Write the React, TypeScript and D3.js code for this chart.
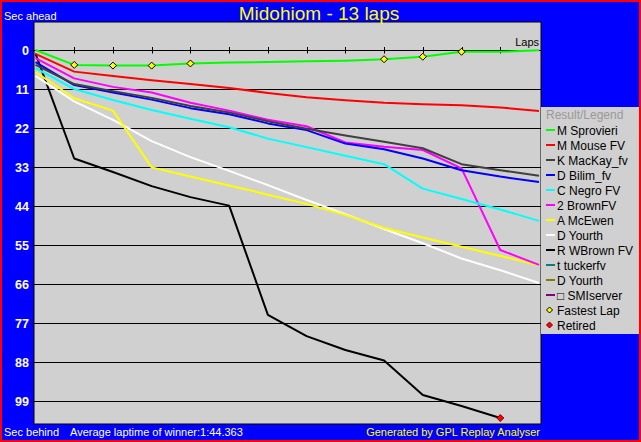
import React from 'react';
import * as d3 from 'd3';

const W = 641;
const H = 442;

const lapNumbers = d3.range(0, 14);
const yTickValues = [0, 11, 22, 33, 44, 55, 66, 77, 88, 99];
const lapTickValues = d3.range(1, 13);

// gap to reference (seconds behind), per lap 0..13
const sprovieri = [0, 4.2, 4.4, 4.4, 3.8, 3.5, 3.4, 3.2, 3.0, 2.6, 1.9, 0.5, 0.5, 0.1];
const mouse = [1.1, 6.1, 7.3, 8.5, 9.6, 10.7, 12.1, 13.3, 14.2, 14.9, 15.3, 15.6, 16.2, 17.2];
const mackay = [4.2, 9.6, 11.6, 13.5, 15.8, 17.6, 20.1, 22.2, 24.1, 25.9, 27.7, 32.2, 33.9, 35.5];
const bilim = [3.4, 9.9, 12.0, 14.0, 16.4, 18.1, 20.7, 22.6, 26.4, 28.0, 30.6, 33.9, 35.7, 37.2];
const negro = [5.1, 11.0, 14.1, 16.9, 19.4, 21.8, 25.0, 27.4, 29.8, 32.2, 39.1, 42.0, 45.0, 48.2];
const brown2 = [2.3, 8.0, 10.4, 12.0, 14.9, 17.1, 19.7, 21.5, 26.1, 27.3, 28.2, 33.4, 56.4, 60.6];
const mcewen = [6.2, 13.6, 17.1, 33.1, 35.7, 38.2, 40.8, 43.4, 46.5, 50.2, 52.9, 55.5, 58.1, 60.7];
const yourth = [7.3, 14.5, 19.7, 25.7, 30.2, 34.1, 38.1, 42.3, 46.3, 50.5, 54.5, 58.8, 62.1, 65.7];
const wbrown = [1.0, 30.6, 34.4, 38.4, 41.5, 43.9, 74.7, 80.7, 84.6, 87.6, 97.3, 100.4, 103.8];

const driverNames = [
  'M Sprovieri', 'M Mouse FV', 'K MacKay_fv', 'D Bilim_fv', 'C Negro FV', '2 BrownFV',
  'A McEwen', 'D Yourth', 'R WBrown FV', 't tuckerfv', 'D Yourth', '\u25A1 SMIserver',
];
const driverColors = [
  '#00ff00', '#ff0000', '#404040', '#0000ff', '#00ffff', '#ff00ff',
  '#ffff00', '#ffffff', '#000000', '#008080', '#808000', '#800080',
];
const driverSeries: (number[] | null)[] = [
  sprovieri, mouse, mackay, bilim, negro, brown2, mcewen, yourth, wbrown, null, null, null,
];

const fastestLaps = [1, 2, 3, 4, 9, 10, 11];
const retiredDriver = 8;

const FONT = '"Liberation Sans", Arial, sans-serif';

const diamond = (cx: number, cy: number, r: number) =>
  `${cx},${cy - r} ${cx + r},${cy} ${cx},${cy + r} ${cx - r},${cy}`;

export default function App() {
  const plot = { x0: 34, y0: 22, x1: 541, y1: 424 };
  const x = d3.scaleLinear().domain([0, 13]).range([35.5, 539]);
  const y = d3.scaleLinear().domain([0, 99]).range([50, 401]);
  const line = d3
    .line<number>()
    .x((_, i) => x(lapNumbers[i]))
    .y((d) => y(d));

  const drawOrder = d3.range(driverSeries.length).reverse();
  const leader = driverSeries[0] as number[];
  const retired = driverSeries[retiredDriver] as number[];
  const retiredLap = retired.length - 1;

  const legendItems = [
    ...driverNames.map((n, i) => ({ name: n, color: driverColors[i], kind: 'line' })),
    { name: 'Fastest Lap', color: '#ffff00', kind: 'diamond' },
    { name: 'Retired', color: '#ff0000', kind: 'diamond' },
  ];

  return (
    <svg
      width={W}
      height={H}
      style={{ position: 'absolute', left: 0, top: 0, fontFamily: FONT }}
    >
      <rect x={0} y={0} width={W} height={H} fill="#ff0000" />
      <rect x={2} y={2} width={W - 4} height={H - 4} fill="#0000ff" />

      <rect
        x={plot.x0}
        y={plot.y0}
        width={plot.x1 - plot.x0}
        height={plot.y1 - plot.y0}
        fill="#d0d0d0"
        stroke="#000"
        strokeWidth={1}
      />

      {yTickValues.map((v) => (
        <g key={v}>
          <line
            x1={31}
            x2={plot.x1}
            y1={Math.round(y(v)) + 0.5}
            y2={Math.round(y(v)) + 0.5}
            stroke="#000"
            strokeWidth={1}
          />
          <text
            x={29}
            y={y(v) + 5}
            textAnchor="end"
            fontSize={12.5}
            fontWeight="bold"
            fill="#fff"
          >
            {v}
          </text>
        </g>
      ))}

      {lapTickValues.map((l) => (
        <line
          key={l}
          x1={Math.round(x(l)) + 0.5}
          x2={Math.round(x(l)) + 0.5}
          y1={y(0) - 3}
          y2={y(0) + 3.5}
          stroke="#000"
          strokeWidth={1}
        />
      ))}

      <text x={539} y={46} textAnchor="end" fontSize={11} fill="#000">
        Laps
      </text>

      {drawOrder.map((i) => {
        const s = driverSeries[i];
        if (!s) return null;
        return (
          <path
            key={i}
            d={line(s) || ''}
            fill="none"
            stroke={driverColors[i]}
            strokeWidth={2}
            strokeLinejoin="round"
          />
        );
      })}

      {fastestLaps.map((l) => (
        <polygon
          key={l}
          points={diamond(x(l), y(leader[l]), 3.5)}
          fill="#ffff00"
          stroke="#000"
          strokeWidth={1}
        />
      ))}

      <polygon
        points={diamond(x(retiredLap), y(retired[retiredLap]), 3.5)}
        fill="#ff0000"
        stroke="#800000"
        strokeWidth={1}
      />

      <text x={319} y={20} textAnchor="middle" fontSize={19} fill="#ffff00">
        Midohiom - 13 laps
      </text>
      <text x={4} y={20} fontSize={11} fill="#fff">
        Sec ahead
      </text>

      <text x={4} y={436} fontSize={11} fill="#fff">
        Sec behind
      </text>
      <text x={70} y={436} fontSize={11} fill="#fff">
        Average laptime of winner:1:44.363
      </text>
      <text x={540} y={436} textAnchor="end" fontSize={11} fill="#ffff00">
        Generated by GPL Replay Analyser
      </text>

      <rect x={541} y={107} width={98} height={227} fill="#d0d0d0" />
      <text x={546} y={119} fontSize={12} fill="#999999">
        Result/Legend
      </text>
      {legendItems.map((it, i) => {
        const cy = 130 + 15 * i;
        return (
          <g key={i}>
            {it.kind === 'line' ? (
              <line x1={546} x2={555} y1={cy} y2={cy} stroke={it.color} strokeWidth={2} />
            ) : (
              <polygon
                points={diamond(549.5, cy, 3)}
                fill={it.color}
                stroke={it.color === '#ff0000' ? '#800000' : '#000'}
                strokeWidth={1}
              />
            )}
            <text x={557} y={cy + 4.5} fontSize={12} fill="#000">
              {it.name}
            </text>
          </g>
        );
      })}
    </svg>
  );
}
